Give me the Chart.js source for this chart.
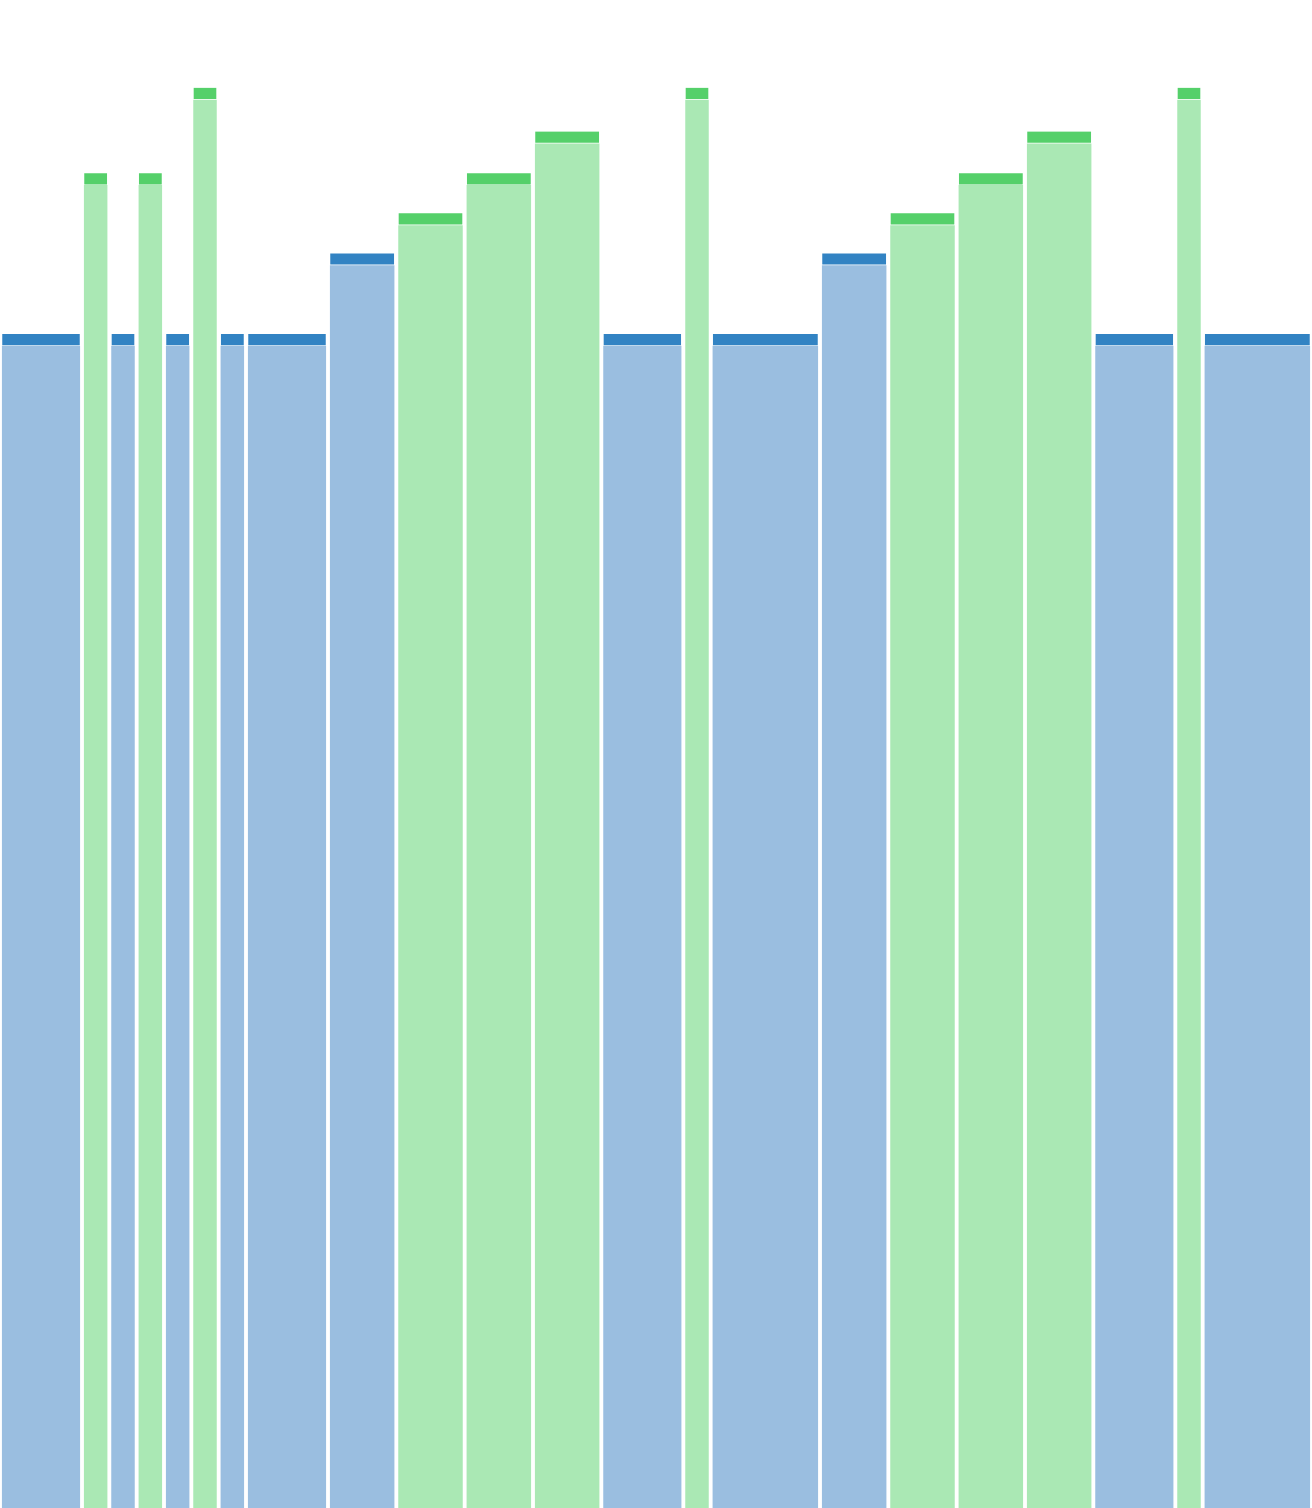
<!DOCTYPE html>
<html>
<head>
<meta charset="utf-8">
<script src="https://cdn.jsdelivr.net/npm/chart.js@4.4.1/dist/chart.umd.min.js"></script>
<style>
    html, body { margin: 0; padding: 0; background: #ffffff; }
    #wrap { width: 1312px; height: 1508px; position: relative; }
</style>
</head>
<body>
<div id="wrap"><canvas id="chart"></canvas></div>
<script>
// width of each bar in x units, its total height and its colour group
const barWidths = [3, 1, 1, 1, 1, 1, 1, 3, 2.5, 2.5, 2.5, 2.5, 3, 1, 4, 2.5, 2.5, 2.5, 2.5, 3, 1, 4];
const barValues = [29, 32.97, 29, 32.97, 29, 35.08, 29, 29, 30.99, 31.98, 32.97, 34, 29, 35.08, 29, 30.99, 31.98, 32.97, 34, 29, 35.08, 29];
const barGroups = ['a', 'b', 'a', 'b', 'a', 'b', 'a', 'a', 'a', 'b', 'b', 'b', 'a', 'b', 'a', 'a', 'b', 'b', 'b', 'a', 'b', 'a'];

const CAP = 0.3;
const GAP_PX = 4.5;
const Y_MAX = 37.25;

const bodyColors = { a: '#9abee0', b: '#aae8b4' };
const capColors = { a: '#3283c3', b: '#55d06a' };

const xTotal = barWidths.reduce((s, w) => s + w, 0);
const centers = [];
let acc = 0;
barWidths.forEach((w) => {
    centers.push(acc + w / 2);
    acc += w;
});

function buildDatasets() {
    const widthSet = [...new Set(barWidths)];
    const datasets = [];
    widthSet.forEach((w) => {
        const idx = barWidths.map((bw, i) => (bw === w ? i : -1)).filter((i) => i >= 0);
        datasets.push({
            label: `body ${w}`,
            unitWidth: w,
            data: idx.map((i) => ({ x: centers[i], y: barValues[i] - CAP })),
            backgroundColor: idx.map((i) => bodyColors[barGroups[i]]),
            borderWidth: 0
        });
        datasets.push({
            label: `cap ${w}`,
            unitWidth: w,
            data: idx.map((i) => ({ x: centers[i], y: CAP })),
            backgroundColor: idx.map((i) => capColors[barGroups[i]]),
            borderColor: '#ffffff',
            borderWidth: { top: 0, left: 0, right: 0, bottom: 1.3 },
            borderSkipped: false
        });
    });
    return datasets;
}

const chart = new Chart(document.getElementById('chart'), {
    type: 'bar',
    data: { datasets: buildDatasets() },
    options: {
        responsive: true,
        maintainAspectRatio: false,
        animation: false,
        layout: { padding: 0 },
        datasets: { bar: { grouped: false } },
        plugins: {
            legend: { display: false },
            tooltip: { enabled: false }
        },
        scales: {
            x: { type: 'linear', min: 0, max: xTotal, offset: false, display: false },
            y: { min: 0, max: Y_MAX, stacked: true, display: false }
        }
    }
});

// bar widths follow the x scale
function applyThickness() {
    const xs = chart.scales.x;
    chart.data.datasets.forEach((ds) => {
        ds.barThickness = xs.getPixelForValue(ds.unitWidth) - xs.getPixelForValue(0) - GAP_PX;
    });
    chart.update('none');
}
applyThickness();
</script>
</body>
</html>
